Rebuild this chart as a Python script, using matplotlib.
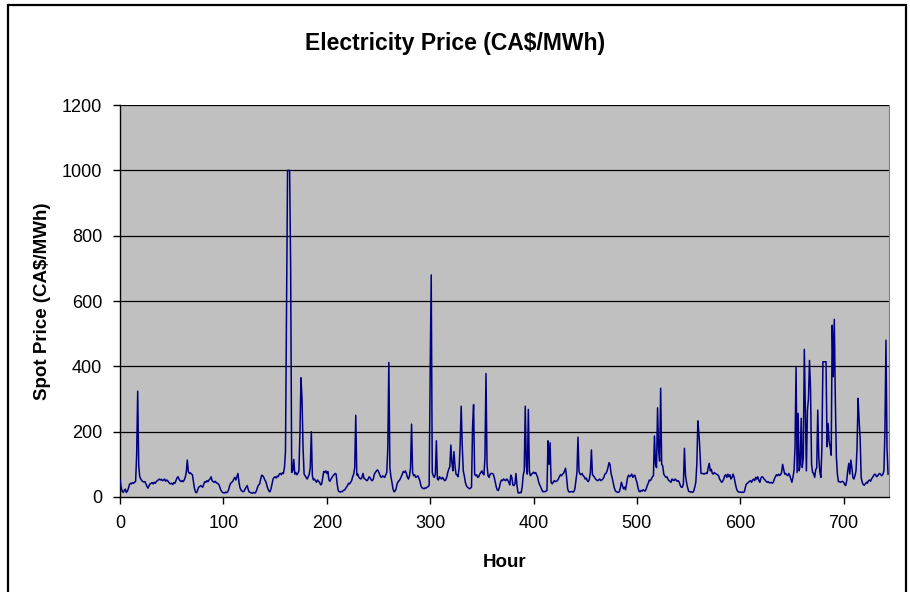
import numpy as np
import matplotlib
matplotlib.use('Agg')
import matplotlib.pyplot as plt
from matplotlib.patches import Rectangle

plt.rcParams['font.family'] = ['Liberation Sans', 'DejaVu Sans']

# hourly spot price, one row per day (31 days x 24 h)
price = [
    52, 30, 18, 14, 20, 24, 14, 18, 26, 38, 42, 40, 44, 42, 45, 48, 130, 324, 95, 62, 55, 50, 47, 46,
    47, 40, 32, 27, 35, 40, 42, 44, 40, 45, 42, 47, 50, 52, 55, 52, 54, 50, 52, 55, 48, 52, 50, 45,
    42, 40, 42, 38, 44, 42, 50, 58, 62, 55, 50, 47, 50, 47, 52, 60, 75, 113, 78, 72, 74, 70, 68, 45,
    25, 15, 13, 22, 30, 32, 35, 32, 30, 40, 47, 45, 50, 47, 52, 55, 62, 50, 47, 45, 48, 44, 42, 40,
    35, 25, 18, 14, 13, 12, 15, 13, 16, 22, 35, 42, 45, 48, 55, 60, 52, 62, 72, 45, 28, 21, 18, 16,
    18, 25, 30, 35, 22, 15, 14, 12, 12, 14, 12, 13, 20, 30, 37, 40, 55, 67, 65, 60, 52, 47, 35, 25,
    18, 16, 25, 40, 55, 60, 62, 58, 64, 62, 70, 72, 68, 74, 72, 90, 140, 560, 1000, 1000, 1000, 700, 75, 80,
    115, 70, 75, 68, 72, 80, 200, 365, 300, 150, 70, 65, 60, 55, 62, 70, 90, 200, 65, 52, 55, 50, 45, 52,
    48, 45, 37, 40, 60, 78, 75, 80, 72, 78, 52, 48, 55, 60, 65, 68, 72, 70, 40, 20, 16, 15, 17, 16,
    20, 21, 25, 30, 35, 42, 40, 45, 50, 62, 70, 90, 250, 67, 70, 60, 57, 55, 60, 72, 57, 55, 52, 50,
    55, 62, 58, 52, 50, 55, 70, 75, 80, 83, 78, 70, 62, 60, 65, 62, 60, 68, 75, 150, 412, 90, 62, 45,
    25, 16, 18, 25, 40, 47, 50, 55, 62, 70, 78, 75, 80, 72, 60, 55, 65, 90, 223, 75, 65, 68, 60, 62,
    65, 58, 50, 35, 28, 27, 25, 28, 27, 30, 32, 35, 384, 680, 75, 65, 60, 70, 172, 55, 52, 62, 58, 55,
    60, 55, 50, 52, 60, 75, 85, 93, 159, 105, 80, 139, 95, 70, 67, 62, 90, 160, 278, 159, 80, 65, 45, 35,
    30, 28, 25, 27, 30, 215, 283, 70, 65, 68, 60, 62, 70, 75, 80, 72, 68, 120, 378, 98, 65, 60, 70, 72,
    72, 70, 60, 45, 30, 21, 20, 30, 45, 52, 50, 55, 52, 50, 55, 52, 45, 37, 67, 60, 37, 35, 40, 72,
    35, 13, 12, 14, 13, 30, 67, 80, 278, 95, 70, 268, 78, 65, 70, 72, 76, 72, 75, 68, 60, 45, 37, 30,
    22, 16, 17, 16, 18, 20, 172, 100, 166, 45, 40, 45, 50, 47, 48, 50, 55, 62, 68, 65, 70, 72, 80, 88,
    60, 25, 16, 15, 16, 17, 15, 16, 25, 50, 75, 183, 78, 70, 68, 72, 65, 62, 55, 58, 50, 47, 55, 75,
    144, 68, 65, 60, 55, 52, 50, 52, 55, 50, 52, 55, 60, 70, 72, 78, 90, 105, 100, 72, 60, 45, 30, 20,
    16, 15, 14, 16, 28, 45, 35, 25, 30, 22, 40, 60, 67, 62, 65, 70, 60, 65, 67, 55, 45, 30, 18, 16,
    20, 18, 22, 20, 18, 25, 35, 42, 52, 50, 55, 62, 65, 187, 100, 90, 273, 144, 110, 333, 100, 95, 70, 65,
    60, 62, 55, 50, 48, 45, 55, 52, 50, 55, 52, 48, 50, 45, 35, 30, 30, 40, 149, 67, 45, 30, 18, 16,
    15, 16, 14, 18, 30, 45, 100, 233, 195, 140, 72, 72, 72, 70, 72, 73, 72, 90, 103, 80, 85, 72, 70, 75,
    72, 70, 68, 65, 55, 50, 45, 48, 55, 65, 68, 60, 70, 62, 68, 55, 60, 70, 62, 45, 30, 20, 16, 15,
    15, 14, 15, 14, 16, 30, 40, 42, 45, 48, 50, 45, 52, 55, 50, 60, 55, 62, 50, 45, 58, 62, 60, 55,
    52, 48, 45, 47, 44, 43, 45, 42, 45, 55, 62, 68, 65, 70, 66, 68, 75, 100, 85, 70, 72, 68, 65, 72,
    65, 55, 45, 60, 80, 150, 397, 75, 256, 80, 100, 241, 90, 120, 452, 270, 80, 265, 300, 418, 333, 100, 75, 72,
    60, 83, 90, 266, 120, 77, 60, 150, 414, 414, 414, 414, 154, 225, 170, 154, 128, 526, 368, 544, 300, 123, 70, 47,
    47, 45, 47, 48, 45, 38, 35, 50, 80, 103, 70, 113, 90, 60, 55, 65, 80, 150, 302, 236, 180, 60, 45, 38,
    36, 40, 45, 42, 50, 52, 48, 55, 60, 65, 70, 68, 62, 65, 70, 72, 68, 65, 70, 80, 200, 480, 150, 70,
]
hours = np.arange(len(price))

y_ticks = [0, 200, 400, 600, 800, 1000, 1200]
x_ticks = [0, 100, 200, 300, 400, 500, 600, 700]

fig = plt.figure(figsize=(9.1, 5.92), dpi=100)
ax = fig.add_axes([0.132, 0.1605, 0.845, 0.662])
ax.set_facecolor('#C0C0C0')

for yv in y_ticks[1:]:
    ax.axhline(yv, color='black', lw=0.9, zorder=1)

ax.plot(hours, price, color='#000080', lw=1.1, zorder=3)

ax.set_xlim(0, 744)
ax.set_ylim(0, 1200)
ax.set_xticks(x_ticks)
ax.set_yticks(y_ticks)
ax.tick_params(direction='out', length=5, width=1, labelsize=13, pad=8)

ax.spines['top'].set_visible(False)
ax.spines['right'].set_color('#808080')
ax.spines['left'].set_linewidth(1.0)
ax.spines['bottom'].set_linewidth(1.0)

fig.text(0.5, 0.927, 'Electricity Price (CA$/MWh)', ha='center', va='center',
         fontsize=16.5, fontweight='bold')
ax.set_xlabel('Hour', fontsize=13.5, fontweight='bold', labelpad=16)
ax.set_ylabel('Spot Price (CA$/MWh)', fontsize=13.5, fontweight='bold', labelpad=8)

# outer chart border
fig.patches.append(Rectangle((8 / 910, -0.02), 898 / 910, 1 - 5 / 592 + 0.02,
                             transform=fig.transFigure, fill=False,
                             edgecolor='black', lw=1.6))

fig.savefig('out.png', dpi=100)
